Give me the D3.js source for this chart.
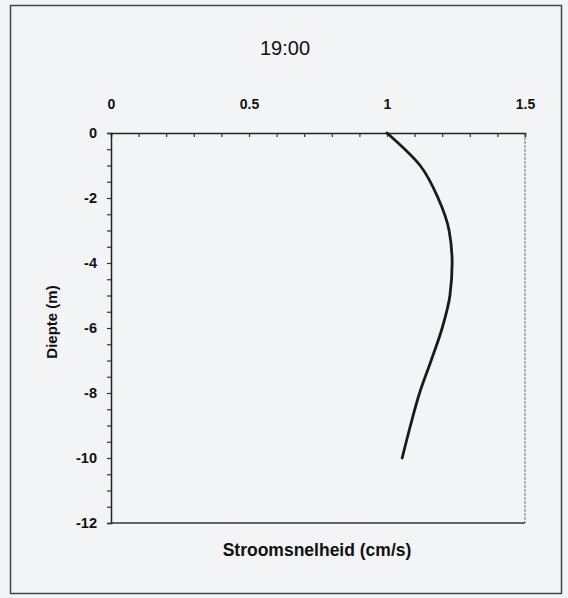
<!DOCTYPE html>
<html><head><meta charset="utf-8">
<script src="https://cdn.jsdelivr.net/npm/d3@7"></script>
<style>
html,body{margin:0;padding:0;background:#f3f4f6;}
svg{display:block;}
text{font-family:"Liberation Sans",Arial,sans-serif;fill:#111;}
</style></head>
<body>
<script>
const title = "19:00";
const xLabel = "Stroomsnelheid (cm/s)";
const yLabel = "Diepte (m)";
const depth = [0, -1, -2, -3, -4, -5, -6, -7, -8, -9, -10];
const speed = [1.0, 1.12, 1.185, 1.225, 1.236, 1.228, 1.2, 1.16, 1.118, 1.085, 1.055];
const xTicks = [0, 0.5, 1, 1.5];
const xTickLabels = ["0", "0.5", "1", "1.5"];
const yTicks = [0, -2, -4, -6, -8, -10, -12];
const yTickLabels = ["0", "-2", "-4", "-6", "-8", "-10", "-12"];

const W = 568, H = 598;
const svg = d3.select("body").append("svg").attr("width", W).attr("height", H);
svg.append("rect").attr("width", W).attr("height", H).attr("fill", "#f3f4f6");

// outer frame
svg.append("rect").attr("x", 10.5).attr("y", 5.5).attr("width", 551).attr("height", 588)
  .attr("fill", "none").attr("stroke", "#444").attr("stroke-width", 1.5);

const m = {left: 111, top: 133, right: 525, bottom: 523};
const x = d3.scaleLinear().domain([0, 1.5]).range([m.left, m.right]);
const y = d3.scaleLinear().domain([0, -12]).range([m.top, m.bottom]);

// title
svg.append("text").attr("x", 285).attr("y", 55).attr("text-anchor", "middle")
  .attr("font-size", 20).text(title);

// right plot border (grey)
svg.append("line").attr("x1", x(1.5)).attr("x2", x(1.5)).attr("y1", y(0)).attr("y2", y(-12))
  .attr("stroke", "#888").attr("stroke-width", 1.2).attr("stroke-dasharray", "3,1");

// bottom plot border
svg.append("line").attr("x1", x(0)).attr("x2", x(1.5)).attr("y1", y(-12)).attr("y2", y(-12))
  .attr("stroke", "#333").attr("stroke-width", 1.5);

// top axis
const xAxis = d3.axisTop(x).tickValues(d3.range(0, 1.5001, 0.1)).tickSize(-4)
  .tickFormat(() => "");
const gx = svg.append("g").attr("transform", `translate(0,${m.top})`).call(xAxis);
gx.select(".domain").attr("stroke", "#222").attr("stroke-width", 1.5);
gx.selectAll(".tick line").attr("stroke", "#333").attr("stroke-width", 1.2);
const xLab = d3.axisTop(x).tickValues(xTicks).tickSize(0).tickPadding(24)
  .tickFormat((d, i) => xTickLabels[i]);
const gxl = svg.append("g").attr("transform", `translate(0,${m.top})`).call(xLab);
gxl.select(".domain").remove();
gxl.selectAll("text").attr("font-size", 14).attr("font-weight", "bold")
  .attr("font-family", "'Liberation Sans',Arial,sans-serif").attr("fill", "#111");

// left axis
const yAxis = d3.axisLeft(y).tickValues(d3.range(0, -12.001, -0.5)).tickSize(4)
  .tickFormat(() => "");
const gy = svg.append("g").attr("transform", `translate(${m.left},0)`).call(yAxis);
gy.select(".domain").attr("stroke", "#222").attr("stroke-width", 1.5);
gy.selectAll(".tick line").attr("stroke", "#333").attr("stroke-width", 1.2);
const yLab = d3.axisLeft(y).tickValues(yTicks).tickSize(0).tickPadding(14)
  .tickFormat((d, i) => yTickLabels[i]);
const gyl = svg.append("g").attr("transform", `translate(${m.left},0)`).call(yLab);
gyl.select(".domain").remove();
gyl.selectAll("text").attr("font-size", 14.5).attr("font-weight", "bold")
  .attr("font-family", "'Liberation Sans',Arial,sans-serif").attr("fill", "#111");

// axis labels
svg.append("text").attr("x", 317).attr("y", 556).attr("text-anchor", "middle")
  .attr("font-size", 17.5).attr("font-weight", "bold").text(xLabel);
svg.append("text").attr("transform", "translate(57,322) rotate(-90)").attr("text-anchor", "middle")
  .attr("font-size", 15).attr("font-weight", "bold").text(yLabel);

// curve
const data = depth.map((d, i) => ({d, v: speed[i]}));
const line = d3.line().x(p => x(p.v)).y(p => y(p.d)).curve(d3.curveMonotoneY);
svg.append("path").datum(data).attr("d", line).attr("fill", "none")
  .attr("stroke", "#1a1a1a").attr("stroke-width", 2.8).attr("stroke-linecap", "round");
</script>
</body></html>
